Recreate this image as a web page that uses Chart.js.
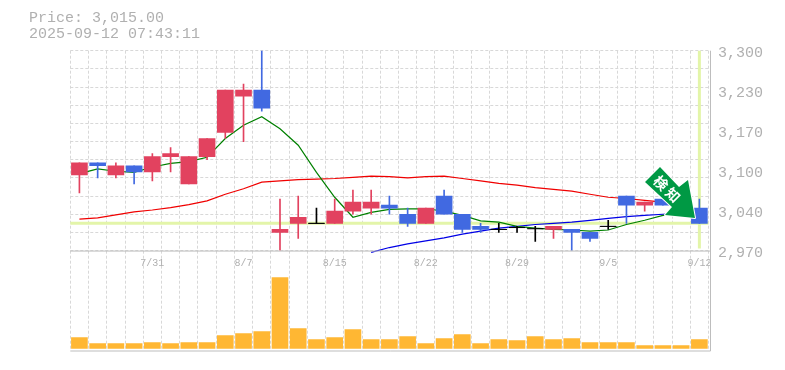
<!DOCTYPE html>
<html>
<head>
<meta charset="utf-8">
<title>Price chart</title>
<script src="https://cdn.jsdelivr.net/npm/chart.js@4"></script>
<style>
  html, body { margin: 0; padding: 0; background: #fff; }
  #wrap { position: relative; width: 785px; height: 370px; }
  #head {
    position: absolute; left: 29px; top: 11px; z-index: 2;
    font: 15px/16px "Liberation Mono", monospace; color: #b0b0b0; white-space: pre;
  }
</style>
</head>
<body>
<div id="wrap">
  <div id="head">Price: 3,015.00
2025-09-12 07:43:11</div>
  <canvas id="chart" width="785" height="370"></canvas>
</div>
<script>
const dates = ["7/25","7/28","7/29","7/30","7/31","8/1","8/4","8/5","8/6","8/7","8/8","8/12","8/13","8/14","8/15",
  "8/18","8/19","8/20","8/21","8/22","8/25","8/26","8/27","8/28","8/29","9/1","9/2","9/3","9/4","9/5",
  "9/8","9/9","9/10","9/11","9/12"];
const shownDates = ["7/31","8/7","8/15","8/22","8/29","9/5","9/12"];

const opens  = [3095,3115,3095,3110,3100,3125,3080,3125,3165,3225,3235,3000,3015,3015,3015,3035,3040,3045,3030,3015,3060,3030,3010,3005,3008,3006,3005,3005,3000,3010,3060,3045,3055,3040,3040];
const closes = [3115,3110,3110,3100,3125,3130,3125,3155,3235,3235,3205,3005,3025,3015,3035,3050,3050,3040,3015,3040,3030,3005,3005,3005,3008,3006,3010,3000,2990,3010,3045,3050,3045,3035,3015];
const highs  = [3115,3115,3115,3110,3130,3140,3125,3155,3235,3245,3320,3055,3060,3040,3055,3070,3070,3060,3040,3040,3070,3030,3015,3015,3010,3010,3010,3005,3000,3020,3060,3050,3055,3040,3055];
const lows   = [3065,3090,3090,3080,3085,3100,3080,3120,3155,3150,3200,2970,2990,3015,3015,3030,3030,3030,3010,3015,3030,3000,3000,3000,3000,2985,2990,2970,2985,3005,3015,3035,3045,3035,3015];

const volumes = [11,5,5,5,6,5,6,6,13,15,17,71,20,9,11,19,9,9,12,5,10,14,5,9,8,12,9,10,6,6,6,3,3,3,9];

const maShort = [3097,3105,3101,3099,3108,3114,3117,3124,3155,3177,3191,3171,3144,3099,3058,3025,3033,3038,3039,3039,3035,3028,3019,3017,3010,3007,3005,3004,3002,3004,3013,3020,3028,3030,null];
const maMid   = [3022,3024,3029,3034,3037,3041,3046,3052,3063,3072,3083,3085,3087,3088,3089,3091,3093,3092,3090,3092,3093,3089,3085,3081,3078,3074,3071,3068,3063,3058,3056,3053,3050,3047,null];
const maLong  = [null,null,null,null,null,null,null,null,null,null,null,null,null,null,null,null,2967,2975,2981,2986,2991,2997,3002,3007,3010,3013,3015,3017,3020,3023,3026,3028,3030,3031,null];

const yGridValues = [3300,3270,3240,3210,3180,3150,3120,3090,3060,3030,3000,2970];
const yLabelValues = [3296,3230,3164,3098,3032,2966];
const yLabels = ["3,300","3,230","3,170","3,100","3,040","2,970"];
const lastPrice = 3015;

const UP = "#e2425f", DOWN = "#4169e1", FLAT = "#000";
const GRID = "#d8d8d8", FRAME = "#bdbdbd", NOW = "#e3f5a9", TEXT = "#b0b0b0";

function candleColor(i) {
  if (closes[i] === opens[i]) return FLAT;
  return closes[i] > opens[i] ? UP : DOWN;
}
const colors = dates.map((d, i) => candleColor(i));
const flatPrices = closes.map((c, i) => (c === opens[i] ? c : null));

// frame, last price cross and the alert arrow are not data marks of a dataset
const framePlugin = {
  id: "frame",
  beforeDatasetsDraw(chart) {
    const { ctx, chartArea, scales } = chart;
    const y = scales.y.getPixelForValue(lastPrice);
    const x = scales.x.getPixelForValue(dates.length - 1);
    ctx.save();
    ctx.strokeStyle = NOW;
    ctx.lineWidth = 3;
    ctx.beginPath();
    ctx.moveTo(chartArea.left, y);
    ctx.lineTo(chartArea.right, y);
    ctx.moveTo(x, scales.y.top);
    ctx.lineTo(x, scales.y.bottom - 2);
    ctx.stroke();
    ctx.restore();
  },
  afterDraw(chart) {
    const { ctx, chartArea, scales } = chart;
    const right = chartArea.right + 2;
    ctx.save();
    ctx.strokeStyle = FRAME;
    ctx.lineWidth = 1;
    ctx.beginPath();
    ctx.moveTo(chartArea.left, scales.y.bottom + 0.5);
    ctx.lineTo(right, scales.y.bottom + 0.5);
    ctx.moveTo(chartArea.left, chartArea.bottom + 0.5);
    ctx.lineTo(right, chartArea.bottom + 0.5);
    ctx.moveTo(right, chartArea.top);
    ctx.lineTo(right, chartArea.bottom + 0.5);
    ctx.stroke();

    ctx.beginPath();
    ctx.moveTo(645, 182);
    ctx.lineTo(660, 167);
    ctx.lineTo(679, 187);
    ctx.lineTo(688, 180);
    ctx.lineTo(695, 218);
    ctx.lineTo(665, 215);
    ctx.lineTo(672, 207);
    ctx.closePath();
    ctx.lineJoin = "round";
    ctx.lineWidth = 2;
    ctx.strokeStyle = "#fff";
    ctx.stroke();
    ctx.fillStyle = "#009944";
    ctx.fill();
    ctx.translate(667, 189);
    ctx.rotate(Math.PI / 4);
    ctx.fillStyle = "#fff";
    ctx.font = 'bold 14px "Noto Sans CJK JP"';
    ctx.letterSpacing = "3px";
    ctx.textAlign = "center";
    ctx.textBaseline = "middle";
    ctx.fillText("検知", 1.5, 0);
    ctx.restore();
  }
};

new Chart(document.getElementById("chart"), {
  type: "bar",
  plugins: [framePlugin],
  data: {
    labels: dates,
    datasets: [
      { type: "bar", label: "Wick", yAxisID: "y", grouped: false, order: 2, barThickness: 1,
        data: dates.map((d, i) => [lows[i], highs[i]]), backgroundColor: colors },
      { type: "bar", label: "Body", yAxisID: "y", grouped: false, order: 1, barThickness: 16,
        data: dates.map((d, i) => [opens[i], closes[i]]), backgroundColor: colors },
      { type: "line", label: "Flat", yAxisID: "y", order: 0, showLine: false, data: flatPrices,
        pointStyle: "line", pointRadius: 8, pointBorderWidth: 1, pointBorderColor: FLAT },
      { type: "line", label: "MA short", yAxisID: "y", order: 3, data: maShort, borderColor: "#008000",
        borderWidth: 1.2, pointRadius: 0, tension: 0 },
      { type: "line", label: "MA mid", yAxisID: "y", order: 4, data: maMid, borderColor: "#f00000",
        borderWidth: 1.2, pointRadius: 0, tension: 0 },
      { type: "line", label: "MA long", yAxisID: "y", order: 5, data: maLong, borderColor: "#0000e6",
        borderWidth: 1.2, pointRadius: 0, tension: 0, clip: 3 },
      { type: "bar", label: "Volume", yAxisID: "vol", grouped: false, order: 6, barThickness: 16,
        data: volumes, backgroundColor: "#ffb733" }
    ]
  },
  options: {
    responsive: false,
    animation: false,
    layout: { padding: { top: 50.7, bottom: 19.5, left: 70.3, right: 0 } },
    plugins: { legend: { display: false }, tooltip: { enabled: false } },
    scales: {
      x: {
        type: "category",
        offset: true,
        position: { y: 2970 },
        border: { display: false, dash: [3, 2] },
        grid: { offset: true, color: GRID, tickLength: 0, drawTicks: false, lineWidth: 1 },
        ticks: {
          autoSkip: false, maxRotation: 0, padding: 7, color: TEXT,
          font: { family: "Liberation Mono", size: 10 },
          callback(v) {
            const name = this.getLabelForValue(v);
            return shownDates.includes(name) ? name : "";
          }
        }
      },
      y: {
        position: "right",
        stack: "panes",
        stackWeight: 2,
        min: 2970,
        max: 3300,
        border: { display: false, dash: [3, 2] },
        afterBuildTicks(scale) {
          const all = yGridValues.concat(yLabelValues);
          scale.ticks = all.sort((a, b) => b - a).map(value => ({ value }));
        },
        afterFit(scale) { scale.width = 76.5; },
        grid: {
          drawTicks: false,
          tickLength: 0,
          color: ctx => (yGridValues.includes(ctx.tick.value) ? GRID : "transparent")
        },
        ticks: {
          padding: 9.5, color: TEXT, autoSkip: false,
          font: { family: "Liberation Mono", size: 15 },
          callback(v) {
            const i = yLabelValues.indexOf(v);
            return i < 0 ? "" : yLabels[i];
          }
        }
      },
      vol: {
        position: "right",
        stack: "panes",
        stackWeight: 1,
        min: -2,
        max: 98,
        border: { display: false },
        afterFit(scale) { scale.width = 76.5; },
        grid: { display: false },
        ticks: { display: false }
      }
    }
  }
});
</script>
</body>
</html>
